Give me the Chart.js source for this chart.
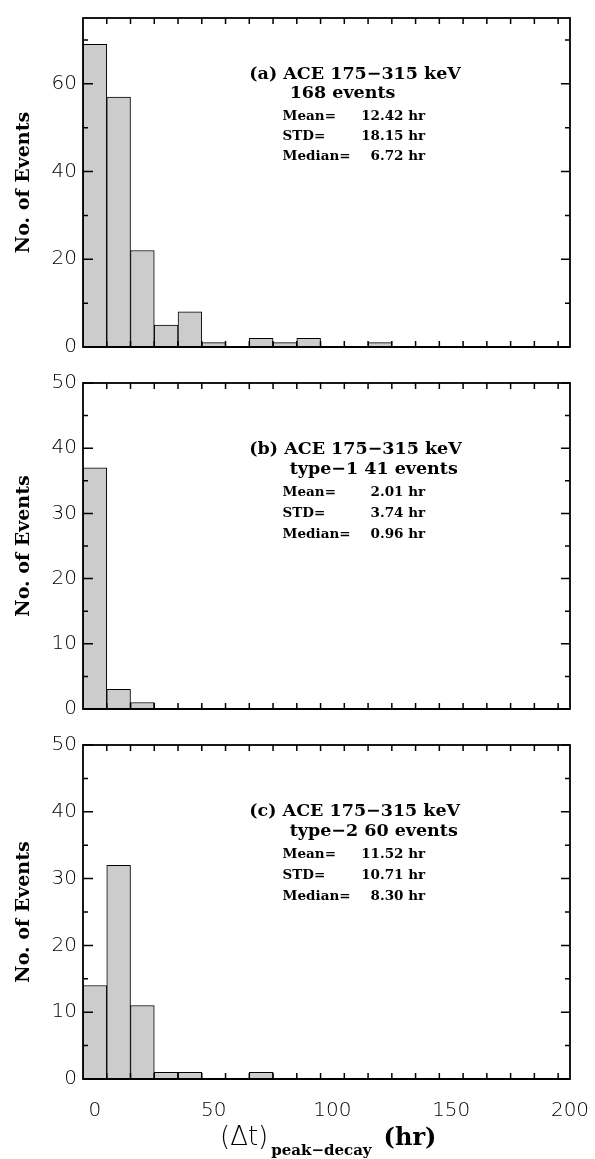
<!DOCTYPE html>
<html>
<head>
<meta charset="utf-8">
<script src="https://cdn.jsdelivr.net/npm/chart.js@4.4.0/dist/chart.umd.min.js"></script>
<style>
    html, body { margin: 0; padding: 0; background: #ffffff; }
    #wrap { position: relative; width: 595px; height: 1159px; }
    .panel { position: absolute; left: 0; width: 595px; }
</style>
</head>
<body>
<div id="wrap">
    <div class="panel" style="top:0;height:365px"><canvas id="chart-a"></canvas></div>
    <div class="panel" style="top:365px;height:362px"><canvas id="chart-b"></canvas></div>
    <div class="panel" style="top:727px;height:432px"><canvas id="chart-c"></canvas></div>
</div>
<script>
// Histogram bins (hr), 10 hr wide
const binCenters = [0, 10, 20, 30, 40, 50, 60, 70, 80, 90, 100, 110, 120, 130, 140, 150, 160, 170, 180, 190];

// Counts per bin
const countsAll   = [69, 57, 22, 5, 8, 1, 0, 2, 1, 2, 0, 0, 1, 0, 0, 0, 0, 0, 0, 0];
const countsType1 = [37, 3, 1, 0, 0, 0, 0, 0, 0, 0, 0, 0, 0, 0, 0, 0, 0, 0, 0, 0];
const countsType2 = [14, 32, 11, 1, 1, 0, 0, 1, 0, 0, 0, 0, 0, 0, 0, 0, 0, 0, 0, 0];

// Axis ticks
const xTickLabels = [0, 50, 100, 150, 200];
const xTickMarks = [5, 15, 25, 35, 45, 55, 65, 75, 85, 95, 105, 115, 125, 135, 145, 155, 165, 175, 185, 195];
const yMajorA = [0, 20, 40, 60];
const yMinorA = [10, 30, 50, 70];
const yMajorBC = [0, 10, 20, 30, 40, 50];
const yMinorBC = [5, 15, 25, 35, 45];

// Panel texts
const titlesA = ['(a) ACE 175\u2212315 keV', '168 events'];
const titlesB = ['(b) ACE 175\u2212315 keV', 'type\u22121 41 events'];
const titlesC = ['(c) ACE 175\u2212315 keV', 'type\u22122 60 events'];
const statNames = ['Mean=', 'STD=', 'Median='];
const statsA = ['12.42 hr', '18.15 hr', '6.72 hr'];
const statsB = ['2.01 hr', '3.74 hr', '0.96 hr'];
const statsC = ['11.52 hr', '10.71 hr', '8.30 hr'];

const SERIF = "'DejaVu Serif', 'Liberation Serif', serif";
const SANS = "'DejaVu Sans', sans-serif";

// Frame, inward ticks, labels drawn on top of the chart
const makeFrame = (cfg) => ({
    id: 'idlFrame',
    afterDraw: (chart) => {
        const { ctx, chartArea: a, scales } = chart;
        const xs = scales.x, ys = scales.y;
        ctx.save();
        ctx.strokeStyle = '#000';
        ctx.lineWidth = 1.8;
        ctx.strokeRect(a.left, a.top, a.right - a.left, a.bottom - a.top);
        ctx.lineWidth = 2.2;
        ctx.beginPath();
        ctx.moveTo(a.left, a.bottom); ctx.lineTo(a.right, a.bottom);
        ctx.stroke();

        ctx.lineWidth = 1.5;
        ctx.beginPath();
        xTickMarks.forEach(v => {
            const px = xs.getPixelForValue(v);
            ctx.moveTo(px, a.bottom); ctx.lineTo(px, a.bottom - 6);
            ctx.moveTo(px, a.top); ctx.lineTo(px, a.top + 6);
        });
        cfg.yMajor.forEach(v => {
            const py = ys.getPixelForValue(v);
            ctx.moveTo(a.left, py); ctx.lineTo(a.left + 10, py);
            ctx.moveTo(a.right, py); ctx.lineTo(a.right - 9, py);
        });
        cfg.yMinor.forEach(v => {
            const py = ys.getPixelForValue(v);
            ctx.moveTo(a.left, py); ctx.lineTo(a.left + 5, py);
            ctx.moveTo(a.right, py); ctx.lineTo(a.right - 5, py);
        });
        ctx.stroke();

        // y title
        ctx.fillStyle = '#000';
        ctx.save();
        ctx.translate(24, (a.top + a.bottom) / 2);
        ctx.rotate(-Math.PI / 2);
        ctx.font = 'bold 19px ' + SERIF;
        ctx.textAlign = 'center';
        ctx.textBaseline = 'middle';
        ctx.fillText('No. of Events', 0, 0);
        ctx.restore();

        // panel annotation
        const x0 = xs.getPixelForValue(65);
        const x1 = xs.getPixelForValue(82);
        const xl = xs.getPixelForValue(79);
        const xr = xs.getPixelForValue(139);
        const off = cfg.textOffsets;
        ctx.textBaseline = 'alphabetic';
        ctx.textAlign = 'left';
        ctx.font = 'bold 17.5px ' + SERIF;
        ctx.fillText(cfg.titles[0], x0, a.top + off[0]);
        ctx.fillText(cfg.titles[1], x1, a.top + off[1]);
        ctx.font = 'bold 13.5px ' + SERIF;
        statNames.forEach((n, i) => {
            ctx.textAlign = 'left';
            ctx.fillText(n, xl, a.top + off[i + 2]);
            ctx.textAlign = 'right';
            ctx.fillText(cfg.stats[i], xr, a.top + off[i + 2]);
        });

        // x title on bottom panel
        if (cfg.xTitle) {
            const base = a.bottom + 66;
            let x = a.left + 137;
            ctx.textAlign = 'left';
            ctx.font = '200 26px ' + SANS;
            ctx.fillText('(\u0394t)', x, base);
            x += ctx.measureText('(\u0394t)').width + 3;
            ctx.font = 'bold 15px ' + SERIF;
            ctx.fillText('peak\u2212decay', x, base + 10);
            x += ctx.measureText('peak\u2212decay').width + 12;
            ctx.font = 'bold 24px ' + SERIF;
            ctx.fillText('(hr)', x, base);
        }
        ctx.restore();
    }
});

const makePanel = (id, counts, cfg) => {
    const ctx = document.getElementById(id);
    return new Chart(ctx, {
        type: 'bar',
        data: {
            datasets: [{
                data: binCenters.map((x, i) => ({ x: x, y: counts[i] })),
                backgroundColor: '#cccccc',
                borderColor: '#000000',
                borderWidth: 1,
                barPercentage: 1,
                categoryPercentage: 1
            }]
        },
        options: {
            responsive: true,
            maintainAspectRatio: false,
            animation: false,
            layout: { padding: { top: cfg.padTop, right: 25, left: 0, bottom: 0 } },
            plugins: { legend: { display: false }, tooltip: { enabled: false } },
            scales: {
                x: {
                    type: 'linear',
                    offset: false,
                    min: -5,
                    max: 200,
                    afterBuildTicks: s => { s.ticks = xTickLabels.map(v => ({ value: v })); },
                    afterFit: s => {
                        s.height = cfg.xHeight;
                        s.paddingLeft = 0;
                        s.paddingRight = 0;
                    },
                    grid: { display: false, drawTicks: false, offset: false },
                    border: { display: false },
                    ticks: {
                        display: cfg.xLabels,
                        color: '#000',
                        padding: 20,
                        maxRotation: 0,
                        font: { family: SANS, size: 20, weight: '200' }
                    }
                },
                y: {
                    min: 0,
                    max: cfg.yMax,
                    afterBuildTicks: s => { s.ticks = cfg.yMajor.map(v => ({ value: v })); },
                    afterFit: s => { s.width = 83; },
                    grid: { display: false, drawTicks: false },
                    border: { display: false },
                    ticks: {
                        color: '#000',
                        padding: 6,
                        font: { family: SANS, size: 20, weight: '200' }
                    }
                }
            }
        },
        plugins: [makeFrame(cfg)]
    });
};

makePanel('chart-a', countsAll, {
    yMax: 75, yMajor: yMajorA, yMinor: yMinorA, padTop: 13, xHeight: 8, xLabels: false,
    titles: titlesA, stats: statsA, textOffsets: [61, 80, 102, 122, 142]
});
makePanel('chart-b', countsType1, {
    yMax: 50, yMajor: yMajorBC, yMinor: yMinorBC, padTop: 9, xHeight: 10, xLabels: false,
    titles: titlesB, stats: statsB, textOffsets: [71, 91, 113, 134, 155]
});
makePanel('chart-c', countsType2, {
    yMax: 50, yMajor: yMajorBC, yMinor: yMinorBC, padTop: 8, xHeight: 80, xLabels: true,
    titles: titlesC, stats: statsC, textOffsets: [71, 91, 113, 134, 155], xTitle: true
});
</script>
</body>
</html>
